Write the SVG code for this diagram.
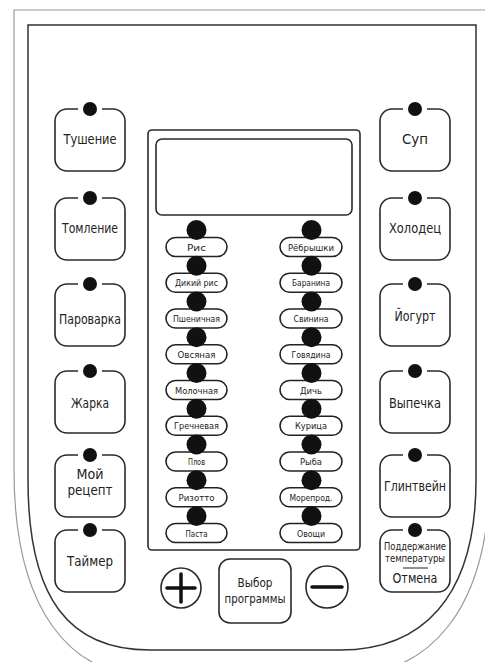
<svg xmlns="http://www.w3.org/2000/svg" xmlns:xlink="http://www.w3.org/1999/xlink" width="485" height="662" viewBox="0 0 485 662">
<style>
.ln{fill:none;stroke:#2a2a2a;stroke-width:1.6}
.dot{fill:#111}
.t{font-family:'DejaVu Sans Condensed','Liberation Sans Narrow','Liberation Sans',sans-serif;font-stretch:condensed;fill:#222;text-anchor:middle}
.bt{font-size:14px}
.pt{font-size:9px}
.pill{fill:#fff;stroke:#222;stroke-width:1.6}
</style>
<defs>
<path id="btn" d="M47,0 H58 A12 12 0 0 1 70,12 V50 A12 12 0 0 1 58,62 H12 A12 12 0 0 1 0,50 V12 A12 12 0 0 1 12,0 H23"/>
</defs>
<rect width="485" height="662" fill="#fff"/>
<g id="housing">
<path d="M14,10 H490 V470 C490,610 430,676 340,676 H150 C70,676 14,610 14,470 Z" fill="none" stroke="#9a9a9a" stroke-width="1.2"/>
<path d="M28,25 H476 V480 C476,600 420,650 340,650 H150 C70,650 28,600 28,480 Z" fill="none" stroke="#333" stroke-width="1.5"/>
</g>
<g id="btn-tushenie" transform="translate(55,109)"><use xlink:href="#btn" class="ln"/><circle class="dot" cx="35" cy="0" r="7"/><text class="t bt" x="35" y="35" textLength="53" lengthAdjust="spacingAndGlyphs">Тушение</text></g>
<g id="btn-tomlenie" transform="translate(55,198)"><use xlink:href="#btn" class="ln"/><circle class="dot" cx="35" cy="0" r="7"/><text class="t bt" x="35" y="35" textLength="56" lengthAdjust="spacingAndGlyphs">Томление</text></g>
<g id="btn-parovarka" transform="translate(55,284)"><use xlink:href="#btn" class="ln"/><circle class="dot" cx="35" cy="0" r="7"/><text class="t bt" x="35" y="40" textLength="62" lengthAdjust="spacingAndGlyphs">Пароварка</text></g>
<g id="btn-zharka" transform="translate(55,371)"><use xlink:href="#btn" class="ln"/><circle class="dot" cx="35" cy="0" r="7"/><text class="t bt" x="35" y="37" textLength="38" lengthAdjust="spacingAndGlyphs">Жарка</text></g>
<g id="btn-moy-recept" transform="translate(55,455)"><use xlink:href="#btn" class="ln"/><circle class="dot" cx="35" cy="0" r="7"/><text class="t bt" x="35" y="24" textLength="27" lengthAdjust="spacingAndGlyphs">Мой</text><text class="t bt" x="35" y="40" textLength="45" lengthAdjust="spacingAndGlyphs">рецепт</text></g>
<g id="btn-taymer" transform="translate(55,530)"><use xlink:href="#btn" class="ln"/><circle class="dot" cx="35" cy="0" r="7"/><text class="t bt" x="35" y="36" textLength="46" lengthAdjust="spacingAndGlyphs">Таймер</text></g>
<g id="btn-sup" transform="translate(380,109)"><use xlink:href="#btn" class="ln"/><circle class="dot" cx="35" cy="0" r="7"/><text class="t bt" x="35" y="35" textLength="26" lengthAdjust="spacingAndGlyphs">Суп</text></g>
<g id="btn-holodec" transform="translate(380,198)"><use xlink:href="#btn" class="ln"/><circle class="dot" cx="35" cy="0" r="7"/><text class="t bt" x="35" y="35" textLength="52" lengthAdjust="spacingAndGlyphs">Холодец</text></g>
<g id="btn-yogurt" transform="translate(380,284)"><use xlink:href="#btn" class="ln"/><circle class="dot" cx="35" cy="0" r="7"/><text class="t bt" x="35" y="37" textLength="41" lengthAdjust="spacingAndGlyphs">Йогурт</text></g>
<g id="btn-vypechka" transform="translate(380,371)"><use xlink:href="#btn" class="ln"/><circle class="dot" cx="35" cy="0" r="7"/><text class="t bt" x="35" y="37" textLength="52" lengthAdjust="spacingAndGlyphs">Выпечка</text></g>
<g id="btn-glintvein" transform="translate(380,455)"><use xlink:href="#btn" class="ln"/><circle class="dot" cx="35" cy="0" r="7"/><text class="t bt" x="35" y="36" textLength="62" lengthAdjust="spacingAndGlyphs">Глинтвейн</text></g>
<g id="btn-podderzhanie" transform="translate(380,530)"><use xlink:href="#btn" class="ln"/><circle class="dot" cx="35" cy="0" r="7"/><text class="t" x="35" y="20" font-size="10.5" textLength="62" lengthAdjust="spacingAndGlyphs">Поддержание</text><text class="t" x="35" y="32" font-size="10.5" textLength="60" lengthAdjust="spacingAndGlyphs">температуры</text><line x1="23" y1="38" x2="48" y2="38" stroke="#222" stroke-width="1"/><text class="t bt" x="35" y="53" textLength="45" lengthAdjust="spacingAndGlyphs">Отмена</text></g>
<g id="panel">
<rect x="148" y="130" width="212" height="420" rx="4" class="ln"/>
<rect x="156" y="139" width="196" height="76" rx="6" class="ln"/>
</g>
<g id="programs-left">
<g id="p-ris"><rect class="pill" x="166" y="237.5" width="61" height="19" rx="9.5"/><circle class="dot" cx="196.5" cy="230" r="10"/><text class="t pt" x="196.5" y="250.5" textLength="19" lengthAdjust="spacingAndGlyphs">Рис</text></g>
<g id="p-dikiy-ris"><rect class="pill" x="166" y="273.25" width="61" height="19" rx="9.5"/><circle class="dot" cx="196.5" cy="265.75" r="10"/><text class="t pt" x="196.5" y="286.25" textLength="43" lengthAdjust="spacingAndGlyphs">Дикий рис</text></g>
<g id="p-pshenichnaya"><rect class="pill" x="166" y="309" width="61" height="19" rx="9.5"/><circle class="dot" cx="196.5" cy="301.5" r="10"/><text class="t pt" x="196.5" y="322" textLength="47" lengthAdjust="spacingAndGlyphs">Пшеничная</text></g>
<g id="p-ovsyanaya"><rect class="pill" x="166" y="344.75" width="61" height="19" rx="9.5"/><circle class="dot" cx="196.5" cy="337.25" r="10"/><text class="t pt" x="196.5" y="357.75" textLength="38" lengthAdjust="spacingAndGlyphs">Овсяная</text></g>
<g id="p-molochnaya"><rect class="pill" x="166" y="380.5" width="61" height="19" rx="9.5"/><circle class="dot" cx="196.5" cy="373" r="10"/><text class="t pt" x="196.5" y="393.5" textLength="43" lengthAdjust="spacingAndGlyphs">Молочная</text></g>
<g id="p-grechnevaya"><rect class="pill" x="166" y="416.25" width="61" height="19" rx="9.5"/><circle class="dot" cx="196.5" cy="408.75" r="10"/><text class="t pt" x="196.5" y="429.25" textLength="45" lengthAdjust="spacingAndGlyphs">Гречневая</text></g>
<g id="p-plov"><rect class="pill" x="166" y="452" width="61" height="19" rx="9.5"/><circle class="dot" cx="196.5" cy="444.5" r="10"/><text class="t pt" x="196.5" y="465" textLength="17" lengthAdjust="spacingAndGlyphs">Плов</text></g>
<g id="p-rizotto"><rect class="pill" x="166" y="487.75" width="61" height="19" rx="9.5"/><circle class="dot" cx="196.5" cy="480.25" r="10"/><text class="t pt" x="196.5" y="500.75" textLength="36" lengthAdjust="spacingAndGlyphs">Ризотто</text></g>
<g id="p-pasta"><rect class="pill" x="166" y="523.5" width="61" height="19" rx="9.5"/><circle class="dot" cx="196.5" cy="516" r="10"/><text class="t pt" x="196.5" y="536.5" textLength="22" lengthAdjust="spacingAndGlyphs">Паста</text></g>
</g>
<g id="programs-right">
<g id="p-rebryshki"><rect class="pill" x="280" y="237.5" width="62" height="19" rx="9.5"/><circle class="dot" cx="311.5" cy="230" r="10"/><text class="t pt" x="311" y="250.5" textLength="46" lengthAdjust="spacingAndGlyphs">Рёбрышки</text></g>
<g id="p-baranina"><rect class="pill" x="280" y="273.25" width="62" height="19" rx="9.5"/><circle class="dot" cx="311.5" cy="265.75" r="10"/><text class="t pt" x="311" y="286.25" textLength="38" lengthAdjust="spacingAndGlyphs">Баранина</text></g>
<g id="p-svinina"><rect class="pill" x="280" y="309" width="62" height="19" rx="9.5"/><circle class="dot" cx="311.5" cy="301.5" r="10"/><text class="t pt" x="311" y="322" textLength="35" lengthAdjust="spacingAndGlyphs">Свинина</text></g>
<g id="p-govyadina"><rect class="pill" x="280" y="344.75" width="62" height="19" rx="9.5"/><circle class="dot" cx="311.5" cy="337.25" r="10"/><text class="t pt" x="311" y="357.75" textLength="39" lengthAdjust="spacingAndGlyphs">Говядина</text></g>
<g id="p-dich"><rect class="pill" x="280" y="380.5" width="62" height="19" rx="9.5"/><circle class="dot" cx="311.5" cy="373" r="10"/><text class="t pt" x="311" y="393.5" textLength="22" lengthAdjust="spacingAndGlyphs">Дичь</text></g>
<g id="p-kurica"><rect class="pill" x="280" y="416.25" width="62" height="19" rx="9.5"/><circle class="dot" cx="311.5" cy="408.75" r="10"/><text class="t pt" x="311" y="429.25" textLength="32" lengthAdjust="spacingAndGlyphs">Курица</text></g>
<g id="p-ryba"><rect class="pill" x="280" y="452" width="62" height="19" rx="9.5"/><circle class="dot" cx="311.5" cy="444.5" r="10"/><text class="t pt" x="311" y="465" textLength="22" lengthAdjust="spacingAndGlyphs">Рыба</text></g>
<g id="p-moreprod"><rect class="pill" x="280" y="487.75" width="62" height="19" rx="9.5"/><circle class="dot" cx="311.5" cy="480.25" r="10"/><text class="t pt" x="311" y="500.75" textLength="43" lengthAdjust="spacingAndGlyphs">Морепрод.</text></g>
<g id="p-ovoshchi"><rect class="pill" x="280" y="523.5" width="62" height="19" rx="9.5"/><circle class="dot" cx="311.5" cy="516" r="10"/><text class="t pt" x="311" y="536.5" textLength="28" lengthAdjust="spacingAndGlyphs">Овощи</text></g>
</g>
<g id="btn-plus"><circle cx="181" cy="588" r="20" class="ln"/><path d="M167,588 H195 M181,574 V602" stroke="#111" stroke-width="3.5" stroke-linecap="round" fill="none"/></g>
<g id="btn-vybor"><rect x="219" y="559" width="72" height="64" rx="11" class="ln"/><text class="t" x="255" y="587" font-size="13" textLength="35" lengthAdjust="spacingAndGlyphs">Выбор</text><text class="t" x="255" y="603" font-size="13" textLength="61" lengthAdjust="spacingAndGlyphs">программы</text></g>
<g id="btn-minus"><circle cx="327" cy="587" r="21" class="ln"/><path d="M312,587 H342" stroke="#111" stroke-width="3.5" stroke-linecap="round" fill="none"/></g>
<g id="connectors"></g>
</svg>
